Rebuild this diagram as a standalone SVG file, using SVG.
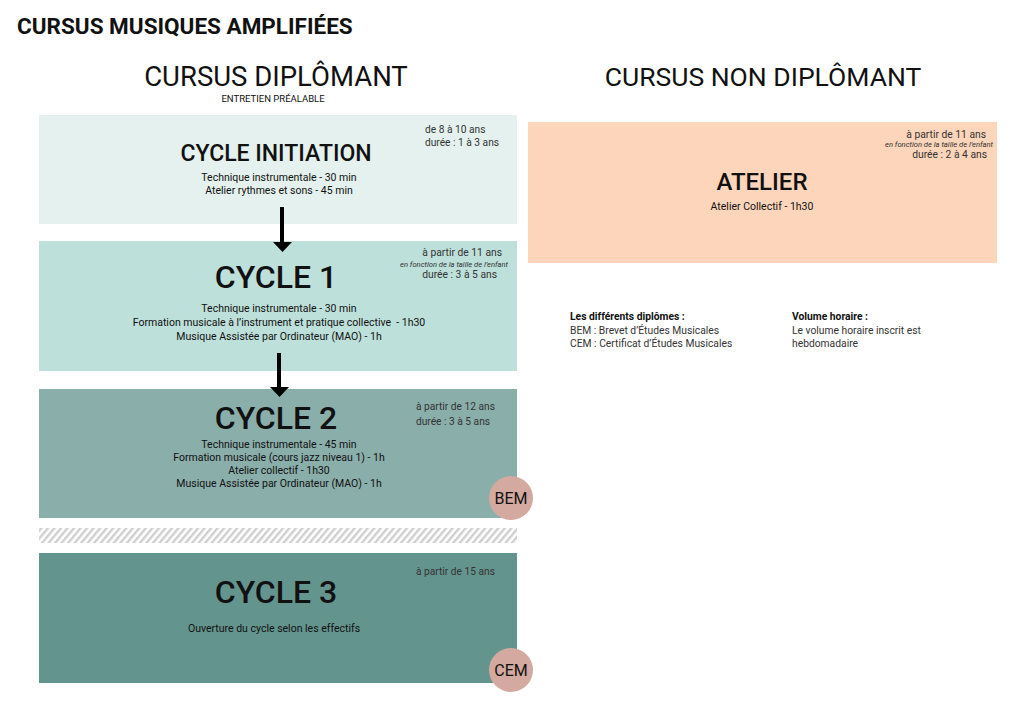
<svg xmlns="http://www.w3.org/2000/svg" width="1024" height="724" viewBox="0 0 1024 724">
<defs>
<style>
text{font-family:Roboto,"Liberation Sans",sans-serif;fill:#111}
.h1{font-size:22.5px;font-weight:700}
.h2{font-weight:400;text-anchor:middle}
.sub{font-size:9.5px;text-anchor:middle}
.cyc{font-weight:500;text-anchor:middle}
.ln{font-size:10.5px;text-anchor:middle}
.age{font-size:10.2px;fill:#333}
.agee{font-size:10.3px;fill:#333;text-anchor:end}
.it{font-size:7.6px;font-style:italic;fill:#333;text-anchor:end}
.note{font-size:10.3px;fill:#333}
.noteb{font-size:10.3px;font-weight:700;fill:#111}
.badge{font-size:16px;text-anchor:middle}
</style>
<pattern id="hatch" width="5" height="5" patternUnits="userSpaceOnUse" patternTransform="rotate(40)">
<rect width="5" height="5" fill="#ffffff"/>
<rect width="2.4" height="5" fill="#cfcfcf"/>
</pattern>
</defs>
<rect width="1024" height="724" fill="#ffffff"/>
<text class="h1" x="17" y="34">CURSUS MUSIQUES AMPLIFIÉES</text>
<text class="h2" x="276" y="86" font-size="27.5">CURSUS DIPLÔMANT</text>
<text class="sub" x="273" y="101.5">ENTRETIEN PRÉALABLE</text>
<text class="h2" x="763" y="86" font-size="26.5">CURSUS NON DIPLÔMANT</text>

<g id="cycle-initiation">
<rect x="39" y="115" width="478" height="109" fill="#e4f1ee"/>
<text class="cyc" x="276" y="161" font-size="23">CYCLE INITIATION</text>
<text class="ln" x="279" y="181">Technique instrumentale - 30 min</text>
<text class="ln" x="279" y="194">Atelier rythmes et sons - 45 min</text>
<text class="age" x="425" y="133">de 8 à 10 ans</text>
<text class="age" x="425" y="146">durée : 1 à 3 ans</text>
</g>

<g id="cycle-1">
<rect x="39" y="241" width="478" height="130" fill="#bee0da"/>
<text class="cyc" x="276" y="288" font-size="32">CYCLE 1</text>
<text class="ln" x="279" y="312">Technique instrumentale - 30 min</text>
<text class="ln" x="279" y="326" xml:space="preserve">Formation musicale à l’instrument et pratique collective  - 1h30</text>
<text class="ln" x="279" y="340">Musique Assistée par Ordinateur (MAO) - 1h</text>
<text class="agee" x="502" y="256">à partir de 11 ans</text>
<text class="it" x="508" y="267">en fonction de la taille de l’enfant</text>
<text class="agee" x="497" y="278">durée : 3 à 5 ans</text>
</g>

<g id="cycle-2">
<rect x="39" y="389" width="478" height="129" fill="#8aaeaa"/>
<text class="cyc" x="276" y="429" font-size="32">CYCLE 2</text>
<text class="ln" x="279" y="448">Technique instrumentale - 45 min</text>
<text class="ln" x="279" y="461">Formation musicale (cours jazz niveau 1) - 1h</text>
<text class="ln" x="279" y="474">Atelier collectif - 1h30</text>
<text class="ln" x="279" y="487">Musique Assistée par Ordinateur (MAO) - 1h</text>
<text class="age" x="416" y="410">à partir de 12 ans</text>
<text class="age" x="416" y="425">durée : 3 à 5 ans</text>
</g>

<g id="bem">
<circle cx="511" cy="498" r="22" fill="#d4aaa0"/>
<text class="badge" x="511" y="504">BEM</text>
</g>

<g id="separator">
<rect x="39" y="528" width="478" height="15" fill="url(#hatch)"/>
</g>

<g id="cycle-3">
<rect x="39" y="553" width="478" height="130" fill="#64948e"/>
<text class="cyc" x="276" y="603" font-size="32">CYCLE 3</text>
<text class="ln" x="274" y="632">Ouverture du cycle selon les effectifs</text>
<text class="age" x="416" y="575">à partir de 15 ans</text>
</g>

<g id="cem">
<circle cx="511" cy="670" r="22" fill="#d4aaa0"/>
<text class="badge" x="511" y="676">CEM</text>
</g>

<g id="atelier">
<rect x="528" y="122" width="469" height="141" fill="#fdd5ba"/>
<text class="cyc" x="762" y="190" font-size="24">ATELIER</text>
<text class="ln" x="762" y="210">Atelier Collectif - 1h30</text>
<text class="agee" x="986" y="138">à partir de 11 ans</text>
<text class="it" x="993" y="147">en fonction de la taille de l’enfant</text>
<text class="agee" x="987" y="158">durée : 2 à 4 ans</text>
</g>

<g id="notes">
<text class="noteb" x="570" y="320">Les différents diplômes :</text>
<text class="note" x="570" y="334">BEM : Brevet d’Études Musicales</text>
<text class="note" x="570" y="347">CEM : Certificat d’Études Musicales</text>
<text class="noteb" x="792" y="320">Volume horaire :</text>
<text class="note" x="792" y="334">Le volume horaire inscrit est</text>
<text class="note" x="792" y="347">hebdomadaire</text>
</g>

<g id="connectors">
<line x1="282" y1="207" x2="282" y2="243" stroke="#000" stroke-width="4"/>
<polygon points="273,242 292,242 282.5,252" fill="#000"/>
<line x1="279" y1="353" x2="279" y2="388" stroke="#000" stroke-width="4"/>
<polygon points="270,387 289,387 279.5,397" fill="#000"/>
</g>
</svg>
